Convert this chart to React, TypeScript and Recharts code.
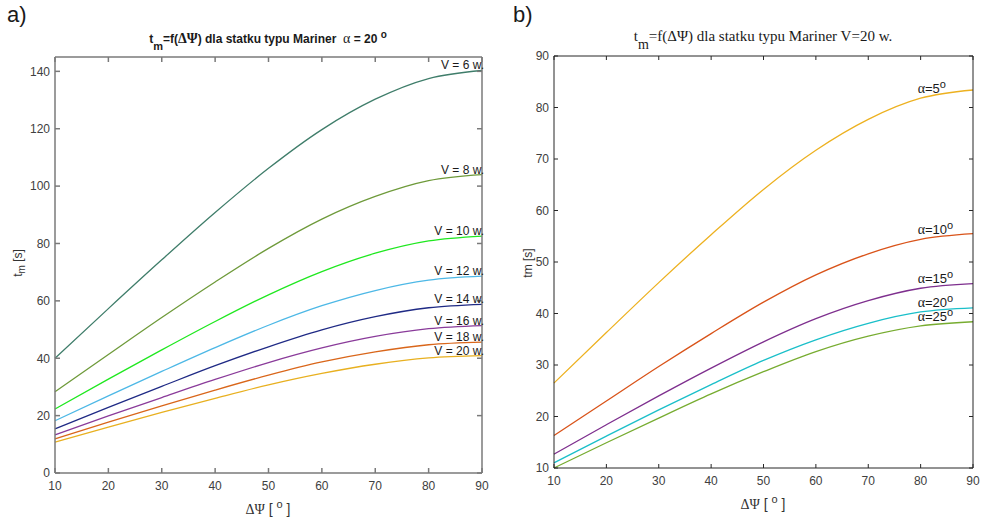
import React from 'react';
import { LineChart, Line, XAxis, YAxis, LabelList } from 'recharts';

// kąt zmiany kursu ΔΨ [°]
const dPsi = [10, 20, 30, 40, 50, 60, 70, 80, 90];

// a) alfa = 20°, różne prędkości
const v6 = [40, 57.3, 74.3, 90.8, 106.2, 119.7, 130.3, 137.5, 140.3];
const v8 = [28.3, 41.3, 54.2, 66.6, 78.3, 88.5, 96.4, 101.9, 104];
const v10 = [22.3, 32.7, 42.9, 52.8, 62.1, 70.2, 76.6, 80.9, 82.6];
const v12 = [18.2, 26.9, 35.4, 43.7, 51.5, 58.3, 63.6, 67.2, 68.6];
const v14 = [15.4, 22.9, 30.2, 37.4, 44.0, 49.9, 54.5, 57.6, 58.8];
const v16 = [13.3, 19.9, 26.3, 32.6, 38.5, 43.6, 47.6, 50.3, 51.4];
const v18 = [11.9, 17.7, 23.4, 28.9, 34.1, 38.7, 42.2, 44.7, 45.6];
const v20 = [10.8, 16.0, 21.1, 26.0, 30.7, 34.7, 37.9, 40.1, 40.9];

// b) V = 20 w., różne wychylenia steru
const a5 = [26.5, 36.3, 46.0, 55.3, 64.1, 71.7, 77.7, 81.8, 83.4];
const a10 = [16.3, 23.0, 29.7, 36.1, 42.2, 47.5, 51.6, 54.4, 55.5];
const a15 = [12.7, 18.4, 24.0, 29.4, 34.5, 39.0, 42.5, 44.9, 45.8];
const a20 = [11.0, 16.2, 21.3, 26.2, 30.9, 34.9, 38.1, 40.3, 41.1];
const a25 = [10.0, 14.9, 19.7, 24.4, 28.7, 32.6, 35.6, 37.6, 38.4];

const leftTicks = [0, 20, 40, 60, 80, 100, 120, 140];
const rightTicks = [10, 20, 30, 40, 50, 60, 70, 80, 90];

const speedSeries = [
  { key: 'v6', name: 'V = 6 w.', values: v6, color: '#3f7d6a' },
  { key: 'v8', name: 'V = 8 w.', values: v8, color: '#6e9a3a' },
  { key: 'v10', name: 'V = 10 w.', values: v10, color: '#1fe81f' },
  { key: 'v12', name: 'V = 12 w.', values: v12, color: '#4db8e6' },
  { key: 'v14', name: 'V = 14 w.', values: v14, color: '#1f2a85' },
  { key: 'v16', name: 'V = 16 w.', values: v16, color: '#8a3b9a' },
  { key: 'v18', name: 'V = 18 w.', values: v18, color: '#d9661a' },
  { key: 'v20', name: 'V = 20 w.', values: v20, color: '#e8b020' },
];

const rudderSeries = [
  { key: 'a5', name: '5', values: a5, color: '#EDB120' },
  { key: 'a10', name: '10', values: a10, color: '#D95319' },
  { key: 'a15', name: '15', values: a15, color: '#7E2F8E' },
  { key: 'a20', name: '20', values: a20, color: '#1ABFC9' },
  { key: 'a25', name: '25', values: a25, color: '#77AC30' },
];

const leftData = dPsi.map((x, i) => {
  const row: Record<string, number> = { x };
  speedSeries.forEach(s => { row[s.key] = s.values[i]; });
  return row;
});
const rightData = dPsi.map((x, i) => {
  const row: Record<string, number> = { x };
  rudderSeries.forEach(s => { row[s.key] = s.values[i]; });
  return row;
});

const FONT = '"Liberation Sans", Arial, sans-serif';
const SERIF = '"Liberation Serif", "Times New Roman", serif';
const blank = () => <g />;

const abs = (left: number, top: number, extra: React.CSSProperties = {}): React.CSSProperties => ({
  position: 'absolute', left, top, whiteSpace: 'nowrap', color: '#1a1a1a', ...extra,
});

const speedLabel = (name: string) => (props: any) => {
  const { x, y, index } = props;
  if (index !== dPsi.length - 1) return null;
  return (
    <text x={x + 2} y={y - 1} textAnchor="end" fontSize={12} fontFamily={FONT} fill="#1a1a1a">{name}</text>
  );
};

const rudderLabel = (name: string) => (props: any) => {
  const { x, y, index } = props;
  if (index !== 7) return null;
  return (
    <text x={x - 3} y={y - 5} fontSize={13} fill="#1a1a1a">
      <tspan fontFamily={SERIF} fontSize={14}>α</tspan>
      <tspan fontFamily={FONT}>={name}</tspan>
      <tspan fontFamily={FONT} fontSize={11} dy={-5}>o</tspan>
    </text>
  );
};

// ramka z podziałką skierowaną do środka (jak w MATLAB)
const frame = (yId: string, xId: string, domY: number[], ticksY: number[], stroke: string, sw: number, len: number) => [
  <XAxis key="xt" xAxisId={xId + 't'} orientation="top" mirror type="number" dataKey="x" domain={[10, 90]} ticks={dPsi}
    allowDataOverflow tick={blank} tickSize={len} axisLine={{ stroke, strokeWidth: sw }} tickLine={{ stroke, strokeWidth: sw }} />,
  <XAxis key="xb" xAxisId={xId + 'b'} orientation="bottom" mirror type="number" dataKey="x" domain={[10, 90]} ticks={dPsi}
    allowDataOverflow tick={blank} tickSize={len} axisLine={false} tickLine={{ stroke, strokeWidth: sw }} />,
  <YAxis key="yl" yAxisId={yId + 'l'} orientation="left" mirror type="number" domain={domY} ticks={ticksY}
    allowDataOverflow tick={blank} tickSize={len} axisLine={false} tickLine={{ stroke, strokeWidth: sw }} />,
  <YAxis key="yr" yAxisId={yId + 'r'} orientation="right" mirror type="number" domain={domY} ticks={ticksY}
    allowDataOverflow tick={blank} tickSize={len} axisLine={{ stroke, strokeWidth: sw }} tickLine={{ stroke, strokeWidth: sw }} />,
];

export default function App() {
  const leftStroke = '#7a7a7a';
  const rightStroke = '#262626';
  return (
    <div style={{ position: 'absolute', left: 0, top: 0, width: 984, height: 517, background: '#fff', fontFamily: FONT }}>
      <div style={abs(7, 2, { fontSize: 22 })}>a)</div>
      <div style={abs(513, 2, { fontSize: 22 })}>b)</div>

      <div style={abs(268, 31, { transform: 'translateX(-50%)', fontSize: 12, fontWeight: 'bold' })}>
        t<sub style={{ fontSize: 11, verticalAlign: -7, lineHeight: 0 }}>m</sub>=f(<span style={{ fontFamily: SERIF, fontSize: 14 }}>ΔΨ</span>) dla statku typu Mariner&nbsp;&nbsp;<span style={{ fontFamily: SERIF, fontWeight: 'normal', fontSize: 14 }}>α</span> = 20 <sup style={{ fontSize: 10, lineHeight: 0 }}>o</sup>
      </div>
      <div style={abs(763, 28, { transform: 'translateX(-50%)', fontSize: 15, fontFamily: SERIF })}>
        t<sub style={{ fontSize: 14, verticalAlign: -8, lineHeight: 0 }}>m</sub>=f(ΔΨ) dla statku typu Mariner V=20 w.
      </div>

      <div style={abs(18, 263, { transform: 'translate(-50%,-50%) rotate(-90deg)', fontSize: 12, color: '#333' })}>
        t<sub style={{ fontSize: 10, lineHeight: 0 }}>m</sub> [s]
      </div>
      <div style={abs(528, 263, { transform: 'translate(-50%,-50%) rotate(-90deg)', fontSize: 12, color: '#333' })}>
        tm [s]
      </div>
      <div style={abs(268, 501, { transform: 'translateX(-50%)', fontSize: 14, color: '#333' })}>
        <span style={{ fontFamily: SERIF }}>ΔΨ</span> [ <sup style={{ fontSize: 11, lineHeight: 0 }}>o</sup> ]
      </div>
      <div style={abs(763, 496, { transform: 'translateX(-50%)', fontSize: 14, color: '#333' })}>
        <span style={{ fontFamily: SERIF }}>ΔΨ</span> [ <sup style={{ fontSize: 11, lineHeight: 0 }}>o</sup> ]
      </div>

      <div style={{ position: 'absolute', left: 0, top: 0 }}>
        <LineChart width={500} height={517} data={leftData} margin={{ top: 57, right: 18, bottom: 14, left: 0 }}>
          <XAxis xAxisId="x" dataKey="x" type="number" domain={[10, 90]} ticks={dPsi} interval={0}
            tickLine={false} tickSize={6} tickMargin={2} height={30}
            axisLine={{ stroke: leftStroke, strokeWidth: 1.5 }} tick={{ fontSize: 12, fill: '#404040', fontFamily: FONT }} />
          <YAxis yAxisId="y" type="number" domain={[0, 145]} ticks={leftTicks} interval={0} width={55}
            tickLine={false} tickSize={5} tickMargin={0}
            axisLine={{ stroke: leftStroke, strokeWidth: 1.5 }} tick={{ fontSize: 12, fill: '#404040', fontFamily: FONT }} />
          {frame('fy', 'fx', [0, 145], leftTicks, leftStroke, 1.5, 5)}
          {speedSeries.map(s => (
            <Line key={s.key} xAxisId="x" yAxisId="y" dataKey={s.key} type="monotone" stroke={s.color}
              strokeWidth={1.3} dot={false} isAnimationActive={false}>
              <LabelList dataKey={s.key} content={speedLabel(s.name)} />
            </Line>
          ))}
        </LineChart>
      </div>

      <div style={{ position: 'absolute', left: 500, top: 0 }}>
        <LineChart width={484} height={517} data={rightData} margin={{ top: 56, right: 11, bottom: 19, left: 0 }}>
          <XAxis xAxisId="x" dataKey="x" type="number" domain={[10, 90]} ticks={dPsi} interval={0}
            tickLine={false} tickSize={6} tickMargin={2} height={30}
            axisLine={{ stroke: rightStroke, strokeWidth: 1 }} tick={{ fontSize: 12, fill: '#404040', fontFamily: FONT }} />
          <YAxis yAxisId="y" type="number" domain={[10, 90]} ticks={rightTicks} interval={0} width={54}
            tickLine={false} tickSize={5} tickMargin={0}
            axisLine={{ stroke: rightStroke, strokeWidth: 1 }} tick={{ fontSize: 12, fill: '#404040', fontFamily: FONT }} />
          {frame('fy', 'fx', [10, 90], rightTicks, rightStroke, 1, 4)}
          {rudderSeries.map(s => (
            <Line key={s.key} xAxisId="x" yAxisId="y" dataKey={s.key} type="monotone" stroke={s.color}
              strokeWidth={1.3} dot={false} isAnimationActive={false}>
              <LabelList dataKey={s.key} content={rudderLabel(s.name)} />
            </Line>
          ))}
        </LineChart>
      </div>
    </div>
  );
}
